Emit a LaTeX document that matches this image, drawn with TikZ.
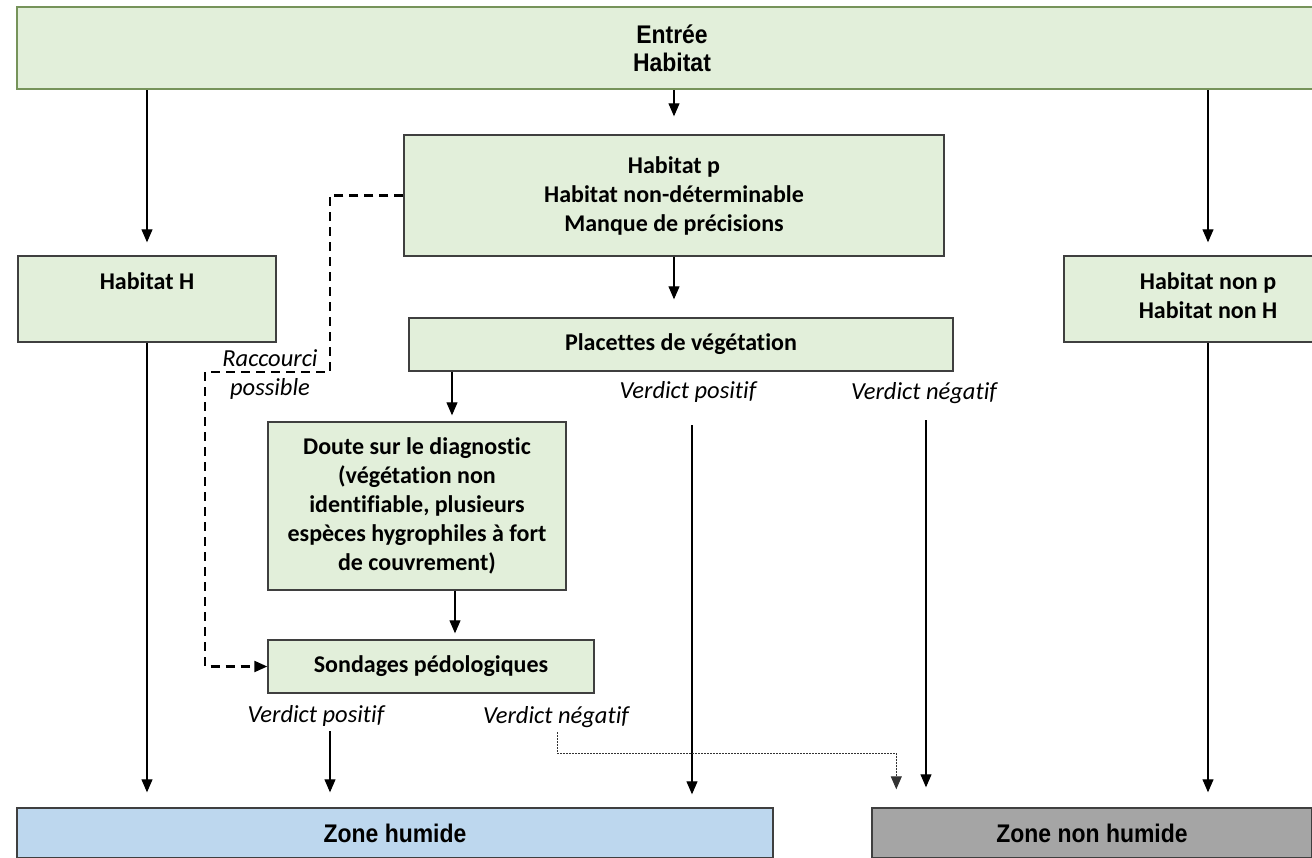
\documentclass[tikz,border=0pt]{standalone}
\usepackage{fontspec}
\setmainfont{Carlito}[Ligatures=NoCommon]
\newfontfamily\headfont[FakeStretch=0.9]{Liberation Sans}
\usetikzlibrary{arrows.meta}
\definecolor{boxgreen}{HTML}{E2EFDA}
\definecolor{edgeolive}{HTML}{76935A}
\definecolor{edgedark}{HTML}{3F3F3F}
\definecolor{wetblue}{HTML}{BDD7EE}
\definecolor{drygray}{HTML}{A5A5A5}
\begin{document}
\begin{tikzpicture}[x=1pt,y=-1pt,
  greenbox/.style={draw=edgedark, line width=1.4pt, fill=boxgreen, rectangle, inner sep=0pt},
  boxtext/.style={font=\fontsize{24}{29}\selectfont\bfseries, align=center, inner sep=0pt},
  headtext/.style={font=\headfont\fontsize{25.5}{28}\selectfont\bfseries, align=center, inner sep=0pt},
  verdict/.style={font=\fontsize{24.5}{29}\selectfont\itshape, align=center, inner sep=0pt},
  arr/.style={line width=1.1pt, -{Triangle[width=11pt,length=13pt]}},
  shortcut/.style={line width=2.2pt, dash pattern=on 9pt off 6pt, -{Triangle[width=11pt,length=13pt]}},
  dotline/.style={line width=1pt, draw=black!80, dash pattern=on 2pt off 1pt, -{Triangle[width=11pt,length=13pt]}},
]
\useasboundingbox (0,0) rectangle (1312,857);

% input box
\node[rectangle, draw=edgeolive, line width=2pt, fill=boxgreen, minimum width=1310pt, minimum height=82pt, headtext]
  (entree) at (672,48) {Entrée\\Habitat};

% habitat boxes
\node[greenbox, minimum width=540pt, minimum height=121pt, boxtext] (hp) at (674,195.5)
  {Habitat p\\Habitat non-déterminable\\Manque de précisions};
\node[greenbox, minimum width=258pt, minimum height=86pt] (hH) at (147,299) {};
\node[boxtext] (hHt) at (147,281) {Habitat H};
\node[greenbox, minimum width=288pt, minimum height=86pt] (hnp) at (1208,299) {};
\node[boxtext] (hnpt) at (1208,296) {Habitat non p\\Habitat non H};

% vegetation and soil steps
\node[greenbox, minimum width=544pt, minimum height=53pt, boxtext] (pl) at (681,344.5)
  {Placettes de végétation};
\node[greenbox, minimum width=298pt, minimum height=168pt, boxtext] (doute) at (417,506)
  {Doute sur le diagnostic\\(végétation non\\identifiable, plusieurs\\espèces hygrophiles à fort\\de couvrement)};
\node[greenbox, minimum width=326pt, minimum height=53pt, boxtext] (sond) at (431,666.5)
  {Sondages pédologiques};

% outcomes
\node[rectangle, draw=edgedark, line width=1.4pt, fill=wetblue, minimum width=756pt, minimum height=50pt, headtext]
  (zh) at (395,833) {Zone humide};
\node[rectangle, draw=edgedark, line width=1.4pt, fill=drygray, minimum width=440pt, minimum height=50pt, headtext]
  (znh) at (1092,833) {Zone non humide};

% verdict labels
\node[verdict] (rac) at (270,375) {Raccourci\\possible};
\node[verdict] (vp1) at (688,392) {Verdict positif};
\node[verdict] (vn1) at (924,393) {Verdict négatif};
\node[verdict] (vp2) at (316,716) {Verdict positif};
\node[verdict] (vn2) at (556,717) {Verdict négatif};

% main flow
\draw[arr, shorten >=13pt] (entree.south -| hH.north) -- (hH.north);
\draw[arr, shorten >=18pt] (entree.south -| hp.north) -- (hp.north);
\draw[arr, shorten >=13pt] (entree.south -| hnp.north) -- (hnp.north);
\draw[arr, shorten >=18pt] (hp.south) -- (hp.south |- pl.north);
\draw[arr, shorten >=15pt] (hH.south) -- (hH.south |- zh.north);
\draw[arr, shorten >=15pt] (hnp.south) -- (hnp.south |- znh.north);
\draw[arr, shorten >=6pt] ([xshift=35pt]doute.north |- pl.south) -- ([xshift=35pt]doute.north);
\draw[arr, shorten >=6pt] ([xshift=38pt]doute.south) -- ([xshift=38pt]doute.south |- sond.north);

% verdict arrows
\draw[arr, shorten >=13pt] ([xshift=4pt,yshift=-33pt]vp1.center) -- ([xshift=4pt]vp1.center |- zh.north);
\draw[arr, shorten >=20pt] ([xshift=2pt,yshift=-27pt]vn1.center) -- ([xshift=2pt]vn1.center |- znh.north);
\draw[arr, shorten >=15pt] ([xshift=14pt,yshift=-15pt]vp2.center) -- ([xshift=14pt]vp2.center |- zh.north);
\draw[dotline, shorten >=18pt] ([xshift=1pt,yshift=-15pt]vn2.center) -- ++(0,21) -| ([xshift=25pt]znh.north west);

% shortcut to soil sampling
\draw[shortcut] (hp.west) -| (330,372) -- (205,372) |- (sond.west);
\end{tikzpicture}
\end{document}
